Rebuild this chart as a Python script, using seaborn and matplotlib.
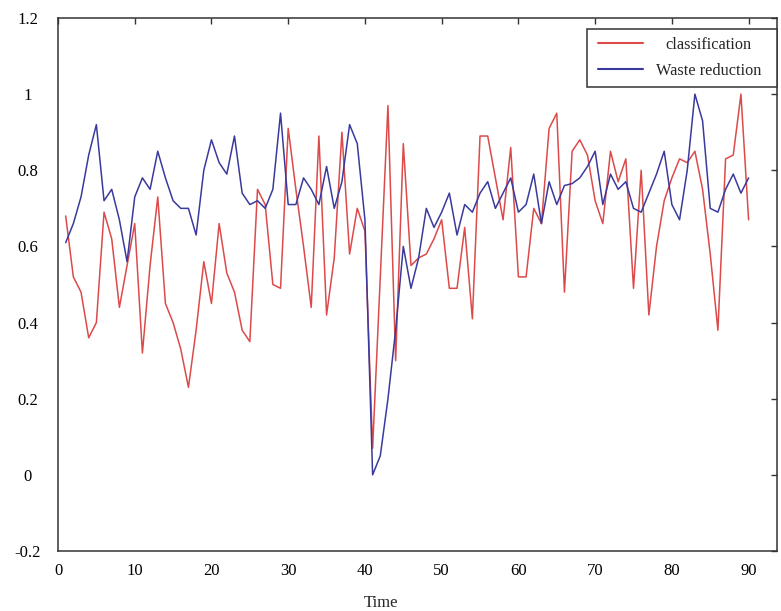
import numpy as np
import pandas as pd
import matplotlib
matplotlib.use("Agg")
import matplotlib.pyplot as plt
from matplotlib.ticker import FuncFormatter
from matplotlib.legend_handler import HandlerLine2D
import seaborn as sns

# ---------------- data ----------------
time = list(range(1, 91))
classification = [
    0.68, 0.52, 0.48, 0.36, 0.40, 0.69, 0.62, 0.44, 0.55, 0.66,
    0.32, 0.55, 0.73, 0.45, 0.40, 0.33, 0.23, 0.38, 0.56, 0.45,
    0.66, 0.53, 0.48, 0.38, 0.35, 0.75, 0.71, 0.50, 0.49, 0.91,
    0.75, 0.60, 0.44, 0.89, 0.42, 0.57, 0.90, 0.58, 0.70, 0.64,
    0.07, 0.52, 0.97, 0.30, 0.87, 0.55, 0.57, 0.58, 0.62, 0.67,
    0.49, 0.49, 0.65, 0.41, 0.89, 0.89, 0.78, 0.67, 0.86, 0.52,
    0.52, 0.70, 0.66, 0.91, 0.95, 0.48, 0.85, 0.88, 0.84, 0.72,
    0.66, 0.85, 0.77, 0.83, 0.49, 0.80, 0.42, 0.60, 0.72, 0.78,
    0.83, 0.82, 0.85, 0.75, 0.58, 0.38, 0.83, 0.84, 1.00, 0.67,
]
waste_reduction = [
    0.61, 0.66, 0.73, 0.84, 0.92, 0.72, 0.75, 0.67, 0.56, 0.73,
    0.78, 0.75, 0.85, 0.78, 0.72, 0.70, 0.70, 0.63, 0.80, 0.88,
    0.82, 0.79, 0.89, 0.74, 0.71, 0.72, 0.70, 0.75, 0.95, 0.71,
    0.71, 0.78, 0.75, 0.71, 0.81, 0.70, 0.77, 0.92, 0.87, 0.67,
    0.00, 0.05, 0.20, 0.38, 0.60, 0.49, 0.57, 0.70, 0.65, 0.69,
    0.74, 0.63, 0.71, 0.69, 0.74, 0.77, 0.70, 0.74, 0.78, 0.69,
    0.71, 0.79, 0.66, 0.77, 0.71, 0.76, 0.765, 0.78, 0.81, 0.85,
    0.71, 0.79, 0.75, 0.77, 0.70, 0.69, 0.74, 0.79, 0.85, 0.71,
    0.67, 0.80, 1.00, 0.93, 0.70, 0.69, 0.75, 0.79, 0.74, 0.78,
]
series_names = ["classification", "Waste reduction"]
series_colors = ["#dc4a4a", "#3a3a9e"]
x_ticks = [0, 10, 20, 30, 40, 50, 60, 70, 80, 90]
y_ticks = [-0.2, 0, 0.2, 0.4, 0.6, 0.8, 1.0, 1.2]

df = pd.DataFrame({
    "Time": time * 2,
    "value": classification + waste_reduction,
    "series": [series_names[0]] * len(time) + [series_names[1]] * len(time),
})

# ---------------- style ----------------
sns.set_style("white")
plt.rcParams["font.family"] = ["Liberation Serif", "DejaVu Serif"]
plt.rcParams["axes.unicode_minus"] = False

W, H = 781, 611
fig = plt.figure(figsize=(W / 100, H / 100), dpi=100)
ax = fig.add_axes([58 / W, 1 - 551 / H, (777 - 58) / W, (551 - 18) / H])

sns.lineplot(data=df, x="Time", y="value", hue="series", hue_order=series_names,
             palette=series_colors, linewidth=1.1, ax=ax, legend=True)

ax.set_xlim(0, 93.7)
ax.set_ylim(-0.2, 1.2)
ax.set_xticks(x_ticks)
ax.set_yticks(y_ticks)
ax.yaxis.set_major_formatter(FuncFormatter(lambda v, p: "{:g}".format(round(v, 2))))
ax.set_xlabel("")
ax.set_ylabel("")

for s in ax.spines.values():
    s.set_color("#333333")
    s.set_linewidth(1.1)
    s.set_visible(True)

ax.tick_params(axis="both", which="major", direction="in", length=4, width=1,
               color="#333333", top=True, right=True, labelsize=12, labelcolor="black")
ax.tick_params(axis="x", pad=8.6)
ax.tick_params(axis="y", pad=22)
for lab in ax.get_yticklabels():
    lab.set_horizontalalignment("center")

fig.text(381 / W, 1 - 603 / H, "Time", ha="center", va="center", fontsize=12)

# ---------------- legend ----------------
fs_pt = 11.7
fs_px = fs_pt * 100 / 72.0
extra_right = 7.9  # px of extra room at right of the text column
handles, labels = ax.get_legend_handles_labels()
leg = ax.legend(handles, labels, loc="upper right",
                bbox_to_anchor=(1.0, 1 - 11 / 533), borderaxespad=0,
                fancybox=False, framealpha=1, edgecolor="#333333",
                fontsize=fs_pt, handlelength=47.9 / fs_px,
                handletextpad=(13 + extra_right) / fs_px,
                borderpad=0.5, labelspacing=0.6,
                handler_map={h: HandlerLine2D(xpad=2.9 / fs_px) for h in handles})
leg.get_frame().set_linewidth(1.1)
for h in leg.get_lines():
    h.set_linewidth(1.5)

# center the labels within the text column
fig.canvas.draw()
r = fig.canvas.get_renderer()
texts = leg.get_texts()
widths = [t.get_window_extent(r).width for t in texts]
wmax = max(widths)
for t, w in zip(texts, widths):
    t.set_x((wmax - w) / 2 - extra_right)

fig.savefig("out.png", dpi=100)
